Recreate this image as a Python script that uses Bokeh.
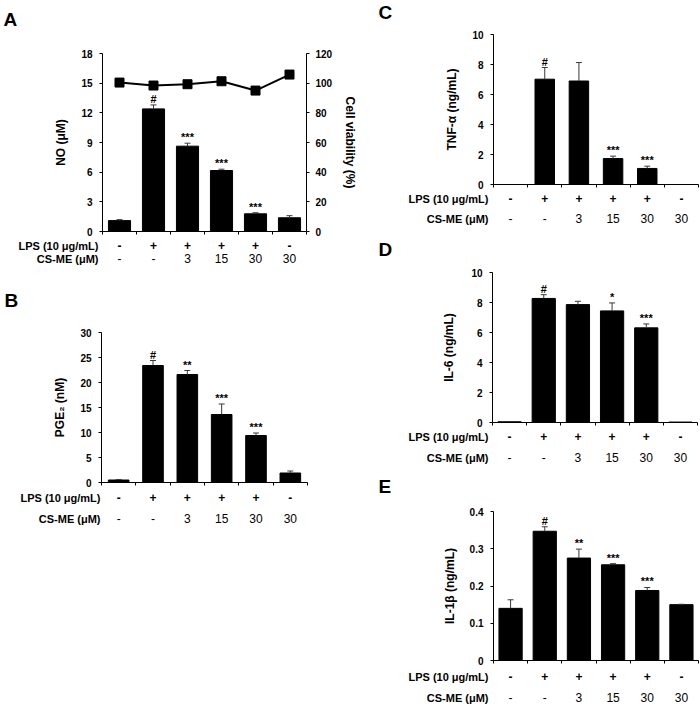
from bokeh.plotting import figure
from bokeh.models import Range1d, LinearAxis, FixedTicker, ColumnDataSource
from bokeh.layouts import row, column
from bokeh.embed import file_html
from bokeh.resources import INLINE
from bokeh.core.properties import value

# ---------------- data ----------------
groups = [1, 2, 3, 4, 5, 6]
lps_row = ["-", "+", "+", "+", "+", "-"]
csme_row = ["-", "-", "3", "15", "30", "30"]
LPS_TITLE = "LPS (10 μg/mL)"
CSME_TITLE = "CS-ME (μM)"

no_mean = [1.1, 12.4, 8.63, 6.17, 1.79, 1.39]
no_err = [0.1, 0.4, 0.3, 0.13, 0.11, 0.21]
no_sig = ["", "#", "***", "***", "***", ""]
viability = [100.4, 98.4, 99.3, 101.3, 95.0, 105.8]

pge2_mean = [0.5, 23.4, 21.6, 13.6, 9.4, 1.9]
pge2_err = [0.1, 1.0, 0.8, 2.1, 0.5, 0.4]
pge2_sig = ["", "#", "**", "***", "***", ""]

tnf_mean = [0.0, 7.02, 6.9, 1.73, 1.07, 0.0]
tnf_err = [0.0, 0.78, 1.23, 0.16, 0.15, 0.0]
tnf_sig = ["", "#", "", "***", "***", ""]

il6_mean = [0.05, 8.27, 7.86, 7.44, 6.31, 0.03]
il6_err = [0.0, 0.25, 0.22, 0.53, 0.26, 0.0]
il6_sig = ["", "#", "", "*", "***", ""]

il1b_mean = [0.140, 0.347, 0.275, 0.257, 0.188, 0.150]
il1b_err = [0.023, 0.012, 0.024, 0.003, 0.008, 0.001]
il1b_sig = ["", "#", "**", "***", "***", ""]

FONT = "Liberation Sans"


def style_axis(ax, label=None, tick_standoff=7, label_standoff=10):
    ax.major_tick_in = 0
    ax.major_tick_out = 3
    ax.minor_tick_line_color = None
    ax.axis_line_color = "black"
    ax.major_tick_line_color = "black"
    ax.major_label_text_font = FONT
    ax.major_label_text_font_size = "10px"
    ax.major_label_text_font_style = "bold"
    ax.major_label_text_color = "black"
    ax.major_label_standoff = tick_standoff
    if label:
        ax.axis_label = label
        ax.axis_label_text_font = FONT
        ax.axis_label_text_font_size = "12px"
        ax.axis_label_text_font_style = "bold"
        ax.axis_label_text_color = "black"
        ax.axis_label_standoff = label_standoff


def panel(letter, mean, err, sig, ylabel, ymax, yticks, size, box, bar_w,
          rows_y, title_x, letter_xy, overrides=None, label_standoff=10):
    W, H = size
    l, r, t, b = box                      # axes box inside the figure, pixels
    xppu = (r - l) / 6.0
    yppu = (b - t) / ymax
    p = figure(width=W, height=H,
               x_range=Range1d(0.5 - l / xppu, 6.5 + (W - r) / xppu),
               y_range=Range1d(-(H - b) / yppu, ymax + t / yppu),
               x_axis_type=None, y_axis_type=None,
               output_backend="svg", toolbar_location=None,
               min_border_left=0, min_border_right=0, min_border_top=0,
               min_border_bottom=0)
    p.grid.visible = False
    p.outline_line_color = None
    p.background_fill_color = "white"
    p.border_fill_color = "white"

    xa = LinearAxis(fixed_location=0, bounds=(0.5, 6.5),
                    ticker=FixedTicker(ticks=[g - 0.5 for g in groups] + [6.5]))
    style_axis(xa)
    xa.major_label_text_color = None
    p.add_layout(xa, "below")

    ya = LinearAxis(fixed_location=0.5, bounds=(0, ymax), ticker=FixedTicker(ticks=yticks))
    style_axis(ya, ylabel, label_standoff=label_standoff)
    if overrides:
        ya.major_label_overrides = overrides
    p.add_layout(ya, "left")

    tops = [m + e for m, e in zip(mean, err)]
    src = ColumnDataSource(dict(x=groups, mean=mean, top=tops, sig=sig))
    p.vbar(x="x", width=bar_w, top="mean", bottom=0, source=src,
           fill_color="black", line_color="black")
    keep = [i for i, e in enumerate(err) if e > 0]
    eb = ColumnDataSource(dict(x=[groups[i] for i in keep], y0=[mean[i] for i in keep],
                               y1=[tops[i] for i in keep]))
    p.segment(x0="x", y0="y0", x1="x", y1="y1", source=eb, line_color="#3a3a3a", line_width=1)
    p.scatter(x="x", y="y1", source=eb, marker="dash", size=6, line_color="#3a3a3a",
              line_width=1)
    p.text(x="x", y="top", text="sig", source=src, text_align="center",
           text_baseline="bottom", text_font=value(FONT), text_font_size="11px",
           text_font_style="bold", text_color="black")

    # treatment rows under the axis (offsets in screen pixels below y = 0)
    zeros = [0] * len(groups)
    p.text(x=groups, y=zeros, text=lps_row, y_offset=rows_y[0] - b, text_align="center",
           text_baseline="middle", text_font=value(FONT), text_font_size="12px",
           text_font_style="bold", text_color="black")
    p.text(x=groups, y=zeros, text=csme_row, y_offset=rows_y[1] - b, text_align="center",
           text_baseline="middle", text_font=value(FONT), text_font_size="12px",
           text_font_style="normal", text_color="black")
    p.text(x=[0.5, 0.5], y=[0, 0], text=[LPS_TITLE, CSME_TITLE],
           x_offset=title_x - l, y_offset=[rows_y[0] - b, rows_y[1] - b],
           text_align="right", text_baseline="middle", text_font=value(FONT),
           text_font_size="11px", text_font_style="bold", text_color="black")
    p.text(x=[0.5], y=[ymax], text=[letter], x_offset=letter_xy[0] - l,
           y_offset=letter_xy[1] - t, text_align="left", text_baseline="middle",
           text_font=value(FONT), text_font_size="19px", text_font_style="bold",
           text_color="black")
    return p, (W, H, l, r, t, b)


# left column: panel A (0..288) and B (288..540); right column C, D, E
pA, geoA = panel("A", no_mean, no_err, no_sig, "NO (μM)", 18, [0, 3, 6, 9, 12, 15, 18],
                 (358, 288), (102, 306, 53, 231), 0.65, (245, 258), 98, (3, 19))
W, H, l, r, t, b = geoA
vppu = (b - t) / 120.0
pA.extra_y_ranges = {"viab": Range1d(-(H - b) / vppu, 120 + t / vppu)}
ra = LinearAxis(y_range_name="viab", fixed_location=6.5, bounds=(0, 120),
                ticker=FixedTicker(ticks=[0, 20, 40, 60, 80, 100, 120]))
style_axis(ra, "Cell viability (%)", tick_standoff=6, label_standoff=8)
pA.add_layout(ra, "right")
pA.line(x=groups, y=viability, y_range_name="viab", line_color="black", line_width=2)
pA.scatter(x=groups, y=viability, y_range_name="viab", marker="square", size=9,
           fill_color="black", line_color="black")

pB, _ = panel("B", pge2_mean, pge2_err, pge2_sig, "PGE₂ (nM)", 30, [0, 5, 10, 15, 20, 25, 30],
              (358, 252), (101, 307, 44, 194), 0.6, (209, 230), 100, (4, 12))

pC, _ = panel("C", tnf_mean, tnf_err, tnf_sig, "TNF-α (ng/mL)", 10, [0, 2, 4, 6, 8, 10],
              (342, 228), (135, 340, 34, 184), 0.57, (198, 218), 130, (20, 12))
pD, _ = panel("D", il6_mean, il6_err, il6_sig, "IL-6 (ng/mL)", 10, [0, 2, 4, 6, 8, 10],
              (342, 238), (134, 339, 44, 194), 0.68, (208, 229), 130, (20, 21),
              label_standoff=12)
pE, _ = panel("E", il1b_mean, il1b_err, il1b_sig, "IL-1β (ng/mL)", 0.4, [0, 0.1, 0.2, 0.3, 0.4],
              (342, 240), (135, 340, 45, 194), 0.68, (210, 231), 130, (20, 20),
              overrides={0: "0"})

layout = row(column(pA, pB), column(pC, pD, pE))
open("out.html", "w").write(file_html(layout, INLINE))
